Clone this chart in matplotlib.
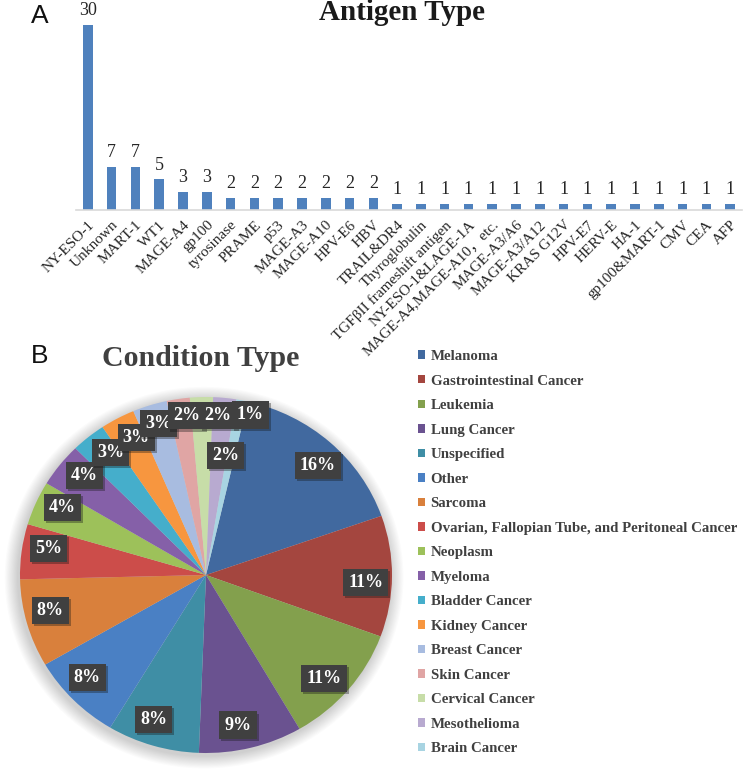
import matplotlib
matplotlib.use("Agg")
import matplotlib.pyplot as plt
import matplotlib.patheffects as pe
from matplotlib.patches import Circle, Patch
import numpy as np

# ---------------- data ----------------
antigens = ["NY-ESO-1", "Unknown", "MART-1", "WT1", "MAGE-A4", "gp100", "tyrosinase",
            "PRAME", "p53", "MAGE-A3", "MAGE-A10", "HPV-E6", "HBV", "TRAIL&DR4",
            "Thyroglobulin", "TGFβII frameshift antigen", "NY-ESO-1&LAGE-1A",
            "MAGE-A4,MAGE-A10，etc.", "MAGE-A3/A6", "MAGE-A3/A12", "KRAS G12V",
            "HPV-E7", "HERV-E", "HA-1", "gp100&MART-1", "CMV", "CEA", "AFP"]
antigen_counts = [30, 7, 7, 5, 3, 3, 2, 2, 2, 2, 2, 2, 2, 1, 1, 1, 1, 1, 1, 1, 1,
                  1, 1, 1, 1, 1, 1, 1]

conditions = ["Melanoma", "Gastrointestinal Cancer", "Leukemia", "Lung Cancer",
              "Unspecified", "Other", "Sarcoma",
              "Ovarian, Fallopian Tube, and Peritoneal Cancer", "Neoplasm", "Myeloma",
              "Bladder Cancer", "Kidney Cancer", "Breast Cancer", "Skin Cancer",
              "Cervical Cancer", "Mesothelioma", "Brain Cancer"]
condition_pct = [16, 11, 11, 9, 8, 8, 8, 5, 4, 4, 3, 3, 3, 2, 2, 2, 1]

condition_colors = ["#41699F", "#A4463F", "#83A04D", "#6A5290", "#3F8EA5", "#4A80C4",
                    "#D9803C", "#CC4D4A", "#9DC15A", "#8560A8", "#45AECB", "#F7963F",
                    "#A8BCE0", "#E0A5A4", "#C7DDA8", "#B8AAD0", "#A8D4E2"]

# label layout tweaks (index -> (angle offset deg clockwise, radius))
label_layout = {12: (1.0, 0.89), 13: (2.0, 0.90), 14: (5.6, 0.90),
                15: (3.0, 0.68), 16: (3.6, 0.93)}

SERIF = ["Liberation Serif", "DejaVu Serif"]
SERIF_CJK = ["Liberation Serif", "Noto Sans CJK SC", "DejaVu Serif"]
W, H = 746, 781
fig = plt.figure(figsize=(W / 100, H / 100), dpi=100)

# ---------------- panel A: bar chart ----------------
axA = fig.add_axes([76 / W, 1 - 210 / H, 666 / W, 185 / H])
x = np.arange(len(antigens))
axA.bar(x, antigen_counts, width=0.4, color="#4F81BD", zorder=2)
axA.set_xlim(-0.5, len(antigens) - 0.5)
axA.set_ylim(0, 30)
for s in ["top", "right", "left"]:
    axA.spines[s].set_visible(False)
axA.spines["bottom"].set_color("#D9D9D9")
axA.spines["bottom"].set_linewidth(1.2)
axA.set_yticks([])
axA.set_xticks(x)
axA.set_xticklabels(antigens, rotation=45, ha="right", rotation_mode="anchor",
                    fontsize=11, family=SERIF_CJK, color="#262626")
axA.tick_params(axis="x", length=0, pad=6)
for xi, v in zip(x, antigen_counts):
    axA.annotate(str(v), (xi, v), xytext=(0, 4), textcoords="offset points",
                 ha="center", va="bottom", fontsize=13, family=SERIF, color="#262626",
                 annotation_clip=False)

fig.text(40 / W, 1 - 16 / H, "A", fontsize=19, family="Liberation Sans",
         ha="center", va="center", color="#111111")
fig.text(402 / W, 1 - 13 / H, "Antigen Type", fontsize=21, family=SERIF,
         weight="bold", ha="center", va="center", color="#1a1a1a")

# ---------------- panel B: pie chart ----------------
axB = fig.add_axes([20 / W, 1 - 753 / H, 372 / W, 356 / H])
# soft shadow
for k in range(12):
    axB.add_patch(Circle((-0.01, -0.015), 1.0 + 0.006 * (k + 1), color="#000000",
                         alpha=0.015, lw=0, zorder=0, clip_on=False))
start = 90 - 13
wedges, _ = axB.pie(condition_pct, colors=condition_colors, startangle=start,
                    counterclock=False, radius=1.0,
                    wedgeprops=dict(linewidth=0, zorder=2, clip_on=False))
axB.set_aspect("auto")
axB.set_xlim(-1, 1)
axB.set_ylim(-1, 1)

total = sum(condition_pct)
cum = 0
for i, p in enumerate(condition_pct):
    mid = 13 + 360 * (cum + p / 2) / total  # clockwise from top
    cum += p
    off, r = label_layout.get(i, (2.5, 0.86))
    ang = np.deg2rad(mid + off)
    tx, ty = r * np.sin(ang), r * np.cos(ang)
    t = axB.text(tx, ty, f"{p}%", ha="center", va="center", fontsize=13,
                 family=SERIF, weight="bold", color="white", zorder=5,
                 bbox=dict(boxstyle="square,pad=0.28", fc="#404040", ec="none"))
    t.get_bbox_patch().set_path_effects(
        [pe.SimplePatchShadow(offset=(1.5, -1.5), alpha=0.35), pe.Normal()])

fig.text(40 / W, 1 - 356 / H, "B", fontsize=19, family="Liberation Sans",
         ha="center", va="center", color="#111111")
fig.text(201 / W, 1 - 358 / H, "Condition Type", fontsize=21.5, family=SERIF,
         weight="bold", ha="center", va="center", color="#404040")

handles = [Patch(facecolor=c, edgecolor="none") for c in condition_colors]
leg = fig.legend(handles, conditions, loc="upper left",
                 bbox_to_anchor=(418 / W, 1 - 350 / H), frameon=False,
                 handlelength=0.5, handleheight=0.5, handletextpad=0.35,
                 labelspacing=0.775, borderpad=0, borderaxespad=0,
                 prop=dict(family=SERIF, weight="bold", size=10.7))
for t in leg.get_texts():
    t.set_color("#404040")

fig.savefig("out.png", dpi=100)
